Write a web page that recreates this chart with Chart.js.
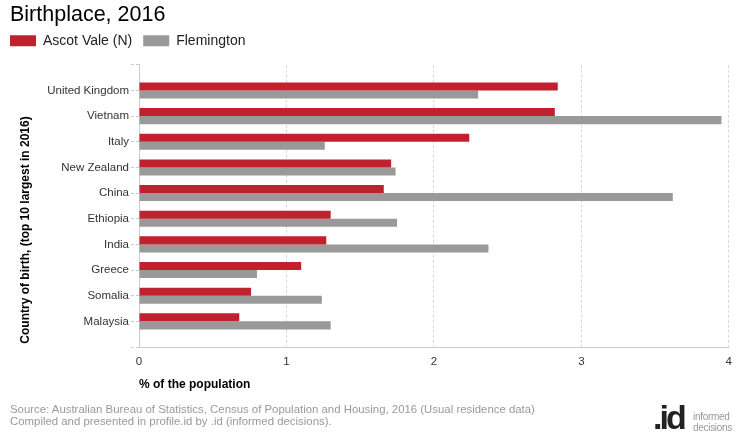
<!DOCTYPE html>
<html>
<head>
<meta charset="utf-8">
<script src="https://cdn.jsdelivr.net/npm/chart.js@4"></script>
<style>
  html, body { margin: 0; padding: 0; background: #fff; }
  #wrap { position: relative; width: 740px; height: 440px; overflow: hidden; font-family: "Liberation Sans", Arial, sans-serif; }
  #c { position: absolute; left: 0; top: 0; }
  .foot { position: absolute; left: 10px; color: #999; font-size: 11.4px; line-height: 12px; white-space: nowrap; }
  #logo { position: absolute; left: 653px; top: 400px; width: 87px; height: 40px; }
  #logo .id { position: absolute; left: 0; top: 0; font-size: 34px; font-weight: bold; color: #222; letter-spacing: -3px; line-height: 34px; }
  #logo .small { position: absolute; left: 40px; color: #999; font-size: 10px; letter-spacing: -0.3px; line-height: 10px; }
</style>
</head>
<body>
<div id="wrap">
  <canvas id="c" width="740" height="440"></canvas>
  <div class="foot" style="top:403px">Source: Australian Bureau of Statistics, Census of Population and Housing, 2016 (Usual residence data)</div>
  <div class="foot" style="top:415px">Compiled and presented in profile.id by .id (informed decisions).</div>
  <div id="logo"><span class="id">.id</span><span class="small" style="top:12px">informed</span><span class="small" style="top:23px">decisions</span></div>
</div>
<script>
const chartTitle = 'Birthplace, 2016';
const categories = ['United Kingdom', 'Vietnam', 'Italy', 'New Zealand', 'China', 'Ethiopia', 'India', 'Greece', 'Somalia', 'Malaysia'];
const seriesNames = ['Ascot Vale (N)', 'Flemington'];
const ascotVale = [2.84, 2.82, 2.24, 1.71, 1.66, 1.30, 1.27, 1.10, 0.76, 0.68];
const flemington = [2.30, 3.95, 1.26, 1.74, 3.62, 1.75, 2.37, 0.80, 1.24, 1.30];
const xTicks = [0, 1, 2, 3, 4];
const xTitle = '% of the population';
const yTitle = 'Country of birth, (top 10 largest in 2016)';

const FONT = '"Liberation Sans", Arial, sans-serif';
Chart.defaults.font.family = FONT;
Chart.defaults.color = '#333';

const toPoints = arr => arr.map((v, i) => ({ x: v, y: i }));

const yTitlePlugin = {
  id: 'yTitle',
  afterDraw(chart) {
    const ctx = chart.ctx;
    ctx.save();
    ctx.translate(26, 230);
    ctx.rotate(-Math.PI / 2);
    ctx.font = 'bold 12px ' + FONT;
    ctx.fillStyle = '#000';
    ctx.textAlign = 'center';
    ctx.textBaseline = 'middle';
    ctx.fillText(yTitle, 0, 0);
    ctx.restore();
  }
};

// shift the legend so its first swatch lines up with the title
const legendShift = {
  id: 'legendShift',
  afterLayout(chart) {
    const lg = chart.legend;
    if (!lg) return;
    lg.left -= 11; lg.right -= 11;
    lg.top -= 7; lg.bottom -= 7;
  }
};

new Chart(document.getElementById('c'), {
  type: 'bar',
  data: {
    datasets: [
      { label: seriesNames[0], data: toPoints(ascotVale), backgroundColor: '#C1202F', borderWidth: 0 },
      { label: seriesNames[1], data: toPoints(flemington), backgroundColor: '#999999', borderWidth: 0 }
    ]
  },
  plugins: [yTitlePlugin, legendShift],
  options: {
    indexAxis: 'y',
    responsive: false,
    animation: false,
    categoryPercentage: 0.626,
    barPercentage: 1,
    layout: { padding: { left: 10, right: 9, top: 0, bottom: 48 } },
    plugins: {
      tooltip: { enabled: false },
      title: {
        display: true, text: chartTitle, align: 'start', color: '#000',
        font: { size: 21.5, weight: 'normal' }, padding: { top: 2, bottom: 2 }
      },
      legend: {
        display: true, align: 'start',
        labels: { boxWidth: 26, boxHeight: 11, padding: 11, color: '#222', font: { size: 14 } }
      }
    },
    scales: {
      x: {
        type: 'linear', position: 'bottom', min: 0, max: 4,
        afterBuildTicks: s => { s.ticks = xTicks.map(v => ({ value: v })); },
        afterFit: s => { s.height = 45; },
        ticks: { padding: 8, color: '#333', font: { size: 11.5 } },
        grid: {
          drawTicks: false,
          color: c => (c.tick && c.tick.value === 0) ? 'rgba(0,0,0,0)' : '#d8d8d8'
        },
        border: { display: true, color: '#ccc', dash: [3, 2] },
        title: {
          display: true, text: xTitle, align: 'start', color: '#000',
          font: { size: 12, weight: 'bold' }, padding: { top: 0, bottom: 0 }
        }
      },
      y: {
        type: 'linear', reverse: true, min: -1, max: 10, offset: false,
        afterBuildTicks: s => { const t = []; for (let v = -1; v <= 10; v++) t.push({ value: v }); s.ticks = t; },
        afterFit: s => { s.width = 129; },
        ticks: {
          autoSkip: false, padding: 2, color: '#333', font: { size: 11.5 },
          callback: v => (categories[v] !== undefined ? categories[v] : '')
        },
        grid: {
          offset: false, drawOnChartArea: false, drawTicks: true, tickLength: 8,
          tickColor: '#ccc', tickBorderDash: [3, 2]
        },
        border: { display: true, color: '#ccc' }
      }
    }
  }
});
</script>
</body>
</html>
